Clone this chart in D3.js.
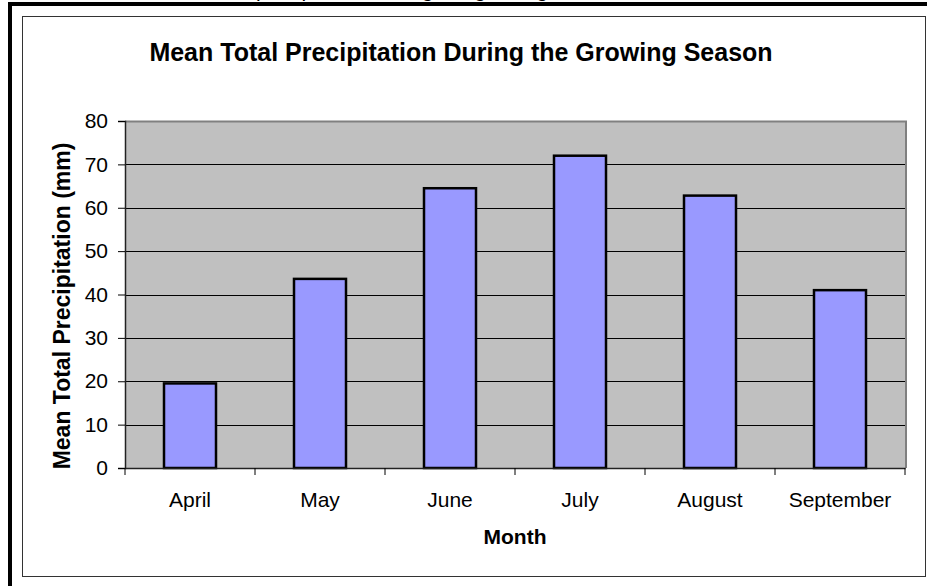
<!DOCTYPE html>
<html>
<head>
<meta charset="utf-8">
<script src="https://cdn.jsdelivr.net/npm/d3@7"></script>
<style>
  body { margin: 0; background: white; }
  svg { display: block; font-family: "Liberation Sans", Arial, sans-serif; }
</style>
</head>
<body>
<div id="chart"></div>
<script>
// chart data
const months = ["April", "May", "June", "July", "August", "September"];
const precipitation = [19.5, 43.6, 64.5, 72.0, 62.8, 41.0];
const yTicks = [0, 10, 20, 30, 40, 50, 60, 70, 80];

const width = 927;
const height = 586;
const plot = { left: 125, right: 905, top: 121, bottom: 468 };

var svg = d3
  .select("#chart")
  .append("svg")
  .attr("width", width)
  .attr("height", height);

// caption cut off at the top of the page
svg
  .append("text")
  .attr("x", 256)
  .attr("y", -3)
  .style("font-size", "21px")
  .text("precipitation during the growing season");

// outer thick frame (top and left only)
svg.append("rect").attr("x", 8).attr("y", 2).attr("width", width - 8).attr("height", 4).attr("fill", "black");
svg.append("rect").attr("x", 8).attr("y", 2).attr("width", 4).attr("height", height - 2).attr("fill", "black");

// chart area border
svg
  .append("rect")
  .attr("x", 22.5)
  .attr("y", 16.5)
  .attr("width", 903)
  .attr("height", 560)
  .attr("fill", "white")
  .attr("stroke", "#333")
  .attr("stroke-width", 1);

var x = d3
  .scaleBand()
  .domain(months)
  .range([plot.left, plot.right])
  .paddingInner(0.6)
  .paddingOuter(0.3);

var y = d3
  .scaleLinear()
  .domain([0, 80])
  .range([plot.bottom, plot.top]);

// plot background
svg
  .append("rect")
  .attr("x", plot.left)
  .attr("y", plot.top)
  .attr("width", plot.right - plot.left)
  .attr("height", plot.bottom - plot.top)
  .attr("fill", "#c0c0c0");

// gridlines
svg
  .append("g")
  .selectAll("line")
  .data(yTicks.slice(1))
  .enter()
  .append("line")
  .attr("x1", plot.left)
  .attr("x2", plot.right)
  .attr("y1", function(d) { return Math.round(y(d)) + 0.5; })
  .attr("y2", function(d) { return Math.round(y(d)) + 0.5; })
  .attr("stroke", "black")
  .attr("stroke-width", 1);

// plot border right side and top
svg
  .append("path")
  .attr("d", "M" + plot.left + "," + (plot.top + 0.5) + "H" + (plot.right + 1) + "V" + plot.bottom)
  .attr("fill", "none")
  .attr("stroke", "#808080")
  .attr("stroke-width", 2);

// bars
svg
  .append("g")
  .selectAll("rect")
  .data(precipitation)
  .enter()
  .append("rect")
  .attr("x", function(d, i) { return x(months[i]); })
  .attr("y", function(d) { return y(d); })
  .attr("width", x.bandwidth())
  .attr("height", function(d) { return y(0) - y(d); })
  .attr("fill", "#9999ff")
  .attr("stroke", "black")
  .attr("stroke-width", 2.5);

// y axis
var yAxis = svg
  .append("g")
  .attr("transform", "translate(" + plot.left + ",0)")
  .call(d3.axisLeft(y).tickValues(yTicks).tickSize(7).tickPadding(10));

// x axis, ticks at the category boundaries
var xAxis = svg
  .append("g")
  .attr("transform", "translate(0," + plot.bottom + ")")
  .call(d3.axisBottom(x).tickSize(0).tickPadding(24));

xAxis
  .selectAll(".boundary")
  .data(d3.range(months.length + 1))
  .enter()
  .append("line")
  .attr("class", "boundary")
  .attr("x1", function(i) { return plot.left + i * x.step(); })
  .attr("x2", function(i) { return plot.left + i * x.step(); })
  .attr("y1", 0)
  .attr("y2", 7)
  .attr("stroke", "black");

svg.selectAll(".domain").attr("stroke", "#222").attr("stroke-width", 1.5);
svg.selectAll(".tick text").attr("fill", "black").style("font-size", "21px").style("font-family", "Liberation Sans, Arial, sans-serif");
yAxis.selectAll(".tick line").attr("stroke", "black");

// titles
svg
  .append("text")
  .attr("x", 461)
  .attr("y", 61)
  .attr("text-anchor", "middle")
  .style("font-size", "25px")
  .style("font-weight", "bold")
  .text("Mean Total Precipitation During the Growing Season");

svg
  .append("text")
  .attr("x", (plot.left + plot.right) / 2)
  .attr("y", 544)
  .attr("text-anchor", "middle")
  .style("font-size", "21px")
  .style("font-weight", "bold")
  .text("Month");

svg
  .append("text")
  .attr("transform", "translate(70,306) rotate(-90)")
  .attr("text-anchor", "middle")
  .style("font-size", "23px")
  .style("font-weight", "bold")
  .text("Mean Total Precipitation (mm)");
</script>
</body>
</html>
